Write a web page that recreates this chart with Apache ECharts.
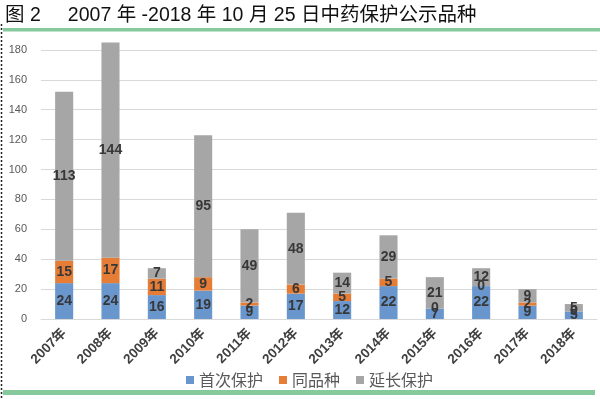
<!DOCTYPE html>
<html>
<head>
<meta charset="utf-8">
<script src="https://cdn.jsdelivr.net/npm/echarts@6/dist/echarts.min.js"></script>
<style>
  html, body { margin: 0; padding: 0; background: #fff; }
  #chart { width: 600px; height: 399px; }
</style>
</head>
<body>
<div id="chart"></div>
<script>
const years = ['2007年', '2008年', '2009年', '2010年', '2011年', '2012年', '2013年', '2014年', '2015年', '2016年', '2017年', '2018年']
const firstProtect = [24, 24, 16, 19, 9, 17, 12, 22, 7, 22, 9, 5]
const sameVariety = [15, 17, 11, 9, 2, 6, 5, 5, 0, 0, 2, 0]
const extendProtect = [113, 144, 7, 95, 49, 48, 14, 29, 21, 12, 9, 5]
const yTicks = [0, 20, 40, 60, 80, 100, 120, 140, 160, 180]

const titleText = '图 2     2007 年 -2018 年 10 月 25 日中药保护公示品种'
const font = '"Noto Sans CJK SC", "Liberation Sans", sans-serif'
const latinFirst = '"Liberation Sans", "Noto Sans CJK SC", sans-serif'

const chart = echarts.init(document.getElementById('chart'))

function makeSeries(name, data, color) {
  return {
    name,
    type: 'bar',
    stack: 'total',
    barWidth: '39%',
    data,
    itemStyle: { color },
    label: {
      show: true,
      position: 'inside',
      color: '#383838',
      fontSize: 14,
      fontWeight: 'bold',
      fontFamily: 'Liberation Sans, sans-serif'
    }
  }
}

chart.setOption({
  animation: false,
  textStyle: { fontFamily: font },
  title: {
    text: titleText,
    left: 0,
    top: 1,
    textStyle: { fontSize: 19.5, fontWeight: 'normal', color: '#111', fontFamily: latinFirst }
  },
  graphic: [
    { type: 'rect', shape: { x: 3, y: 28, width: 597, height: 3.5 }, style: { fill: '#85c99c' } },
    { type: 'rect', shape: { x: 3, y: 390, width: 592, height: 5 }, style: { fill: '#85c99c' } },
    {
      type: 'line',
      shape: { x1: 1.5, y1: 24, x2: 1.5, y2: 399 },
      style: { stroke: '#222', lineWidth: 1.5, lineDash: [2, 2] }
    }
  ],
  legend: {
    top: 367,
    left: 181,
    itemWidth: 8,
    itemHeight: 8,
    itemGap: 16,
    icon: 'rect',
    textStyle: { fontSize: 16, color: '#595959', fontFamily: font },
    data: ['首次保护', '同品种', '延长保护']
  },
  grid: {
    left: 41,
    right: 3,
    top: 35,
    bottom: 80,
    containLabel: false
  },
  xAxis: {
    type: 'category',
    data: years,
    axisLine: { lineStyle: { color: '#d9d9d9' } },
    axisTick: { show: false },
    axisLabel: {
      rotate: 45,
      interval: 0,
      margin: 12,
      fontSize: 13.5,
      fontWeight: 'bold',
      color: '#404040',
      fontFamily: latinFirst
    }
  },
  yAxis: {
    type: 'value',
    min: yTicks[0],
    max: 190,
    interval: 20,
    axisLine: { show: false },
    axisTick: { show: false },
    axisLabel: {
      showMaxLabel: false,
      margin: 14,
      fontSize: 11,
      color: '#595959',
      fontFamily: 'Liberation Sans, sans-serif'
    },
    splitLine: { showMaxLine: false, lineStyle: { color: '#d9d9d9' } }
  },
  series: [
    makeSeries('首次保护', firstProtect, '#6896cd'),
    makeSeries('同品种', sameVariety, '#e57d36'),
    makeSeries('延长保护', extendProtect, '#a6a6a6')
  ]
})
</script>
</body>
</html>
